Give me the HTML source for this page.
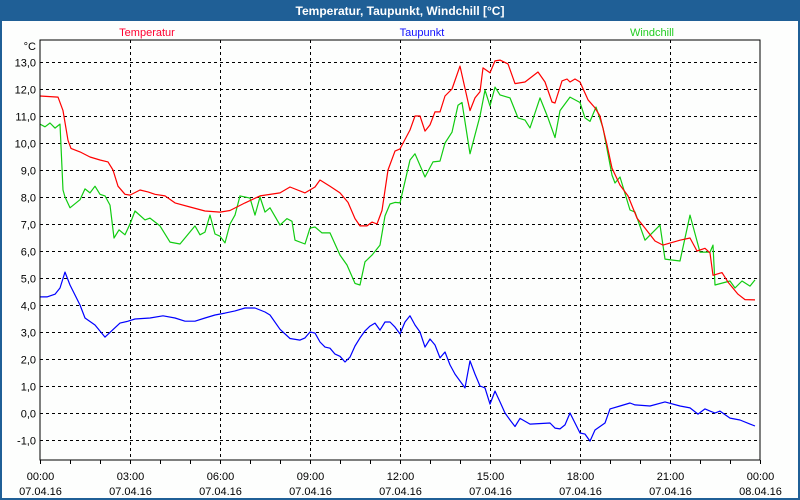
<!DOCTYPE html>
<html><head><meta charset="utf-8"><style>
body{margin:0;background:#fff;}
svg{display:block;font-family:"Liberation Sans",sans-serif;}
</style></head><body>
<svg id="chart" width="800" height="500" viewBox="0 0 800 500">
<rect x="0" y="0" width="800" height="500" fill="#1f5f96"/>
<rect x="2" y="21" width="796" height="477" fill="#fdfefd"/>
<text x="400" y="15" text-anchor="middle" fill="#fff" font-size="12" font-weight="bold">Temperatur, Taupunkt, Windchill [°C]</text>
<text x="147" y="36" text-anchor="middle" fill="#ff0030" font-size="11">Temperatur</text>
<text x="422" y="36" text-anchor="middle" fill="#1010ff" font-size="11">Taupunkt</text>
<text x="652" y="36" text-anchor="middle" fill="#22cc22" font-size="11">Windchill</text>
<text x="36" y="50" text-anchor="end" font-size="11" fill="#000">°C</text>
<g id="grid"></g>
<g id="series"></g>
<rect x="40" y="40" width="720" height="420" fill="none" stroke="#000" stroke-width="1"/>
<g id="axes"></g>
</svg>
<script>
const yTicks=[-1,0,1,2,3,4,5,6,7,8,9,10,11,12,13];
const xTickHours=[0,3,6,9,12,15,18,21,24];
const xTickTimes=["00:00","03:00","06:00","09:00","12:00","15:00","18:00","21:00","00:00"];
const xTickDates=["07.04.16","07.04.16","07.04.16","07.04.16","07.04.16","07.04.16","07.04.16","07.04.16","08.04.16"];
const tempMinutes=[0,36,46,56,62,80,100,120,136,146,156,170,180,200,216,230,250,270,300,330,360,380,410,440,480,500,530,550,560,580,600,616,630,640,654,664,674,684,696,710,720,740,750,760,770,780,790,800,810,824,840,860,870,880,886,900,910,920,936,950,970,996,1010,1024,1030,1044,1054,1060,1070,1080,1096,1110,1120,1134,1144,1160,1176,1194,1210,1230,1246,1280,1300,1314,1330,1340,1346,1364,1376,1396,1410,1430];
const tempValues=[11.74,11.7,11.2,10.1,9.8,9.67,9.48,9.37,9.3,9.0,8.4,8.1,8.07,8.26,8.19,8.1,8.04,7.78,7.63,7.48,7.44,7.5,7.78,8.04,8.15,8.37,8.15,8.37,8.63,8.4,8.15,7.8,7.2,6.93,6.93,7.07,7.0,7.5,9.0,9.7,9.78,10.48,11.0,11.0,10.44,10.67,11.15,11.15,11.74,12.0,12.85,11.2,11.67,11.9,12.78,12.6,13.04,13.07,12.93,12.2,12.26,12.63,12.26,11.52,11.48,12.3,12.37,12.26,12.37,12.26,11.6,11.3,11.0,9.93,9.07,8.44,8.04,7.22,6.85,6.37,6.22,6.4,6.48,6.0,6.1,5.93,5.1,5.2,4.85,4.4,4.2,4.19];
const dewMinutes=[0,14,30,40,50,60,80,90,110,130,160,176,190,220,246,270,290,310,330,350,370,390,410,430,450,460,480,500,520,530,540,550,560,570,580,590,600,610,620,630,640,650,660,670,680,690,700,710,720,730,740,750,760,770,780,790,800,810,820,830,850,860,870,880,890,900,910,920,930,940,950,960,980,1020,1030,1040,1050,1060,1080,1090,1100,1110,1130,1140,1160,1180,1190,1220,1250,1280,1300,1316,1330,1340,1350,1360,1380,1400,1420,1430];
const dewValues=[4.3,4.3,4.4,4.63,5.22,4.74,4.0,3.52,3.26,2.81,3.33,3.4,3.48,3.52,3.6,3.52,3.4,3.4,3.52,3.63,3.7,3.78,3.89,3.89,3.74,3.63,3.1,2.76,2.7,2.78,3.0,2.96,2.63,2.44,2.4,2.18,2.1,1.89,2.07,2.48,2.78,3.04,3.22,3.33,3.07,3.37,3.37,3.18,2.93,3.37,3.6,3.26,3.0,2.44,2.74,2.52,2.04,2.26,1.78,1.44,0.93,1.93,1.44,1.0,0.93,0.33,0.81,0.41,0,-0.26,-0.5,-0.2,-0.41,-0.37,-0.56,-0.59,-0.44,0,-0.74,-0.78,-1.04,-0.63,-0.37,0.15,0.26,0.37,0.3,0.26,0.41,0.26,0.19,-0.04,0.15,0.07,0,0.07,-0.19,-0.26,-0.41,-0.48];
const chillMinutes=[0,10,20,30,40,46,50,60,80,90,100,110,120,130,140,148,158,170,180,190,210,220,240,260,280,310,320,330,340,350,360,370,380,390,400,420,430,440,450,460,480,494,504,510,530,540,550,564,580,600,614,630,640,650,664,680,690,700,710,720,740,750,770,786,800,810,824,836,844,860,880,890,900,910,920,940,956,970,980,1000,1016,1030,1040,1060,1080,1090,1100,1112,1126,1144,1150,1160,1180,1190,1210,1240,1250,1280,1300,1320,1340,1346,1350,1380,1390,1404,1420,1430];
const chillValues=[10.7,10.6,10.74,10.55,10.7,8.26,8.0,7.6,7.9,8.3,8.15,8.4,8.1,8.04,7.7,6.48,6.78,6.6,7.0,7.48,7.15,7.22,6.93,6.33,6.26,6.93,6.6,6.7,7.33,6.63,6.55,6.3,7.0,7.33,8.04,7.96,7.33,8.0,7.44,7.6,6.96,7.2,7.1,6.4,6.26,6.85,6.89,6.67,6.67,5.85,5.48,4.8,4.74,5.6,5.85,6.22,7.3,7.74,7.8,7.78,9.37,9.6,8.74,9.3,9.33,10.0,10.4,11.4,11.5,9.6,11.0,11.96,11.37,12.07,11.78,11.67,10.93,10.85,10.56,11.67,10.93,10.2,11.2,11.7,11.5,10.93,10.8,11.33,10.56,8.81,8.52,8.74,7.52,7.44,6.4,6.96,5.7,5.63,7.33,5.96,5.96,6.22,4.74,4.89,4.63,4.89,4.7,4.93];

const NS='http://www.w3.org/2000/svg';
const X0=40,X1=760,YZERO=413,PXV=27;
function xScale(min){return X0+(X1-X0)*min/1440;}
function yScale(v){return YZERO-PXV*v;}
function mk(tag,attrs,parent){const e=document.createElementNS(NS,tag);for(const k in attrs)e.setAttribute(k,attrs[k]);parent.appendChild(e);return e;}
const grid=document.getElementById('grid'),axes=document.getElementById('axes'),series=document.getElementById('series');
yTicks.forEach(v=>{
  const y=yScale(v)+0.5;
  const l=mk('line',{x1:X0,x2:X1,y1:y,y2:y,stroke:'#000','stroke-dasharray':'3,3','stroke-width':1},grid);
  
  
  const t=mk('text',{x:36,y:y+4,'text-anchor':'end','font-size':11,fill:'#000'},axes);
  t.textContent=v.toFixed(1).replace('.',',');
  
  
});
xTickHours.forEach((h,i)=>{
  const x=xScale(h*60)+0.5;
  if(h>0&&h<24){
    const l=mk('line',{x1:x,x2:x,y1:40,y2:460,stroke:'#000','stroke-dasharray':'3,3','stroke-width':1},grid);
    
    
  }
  const t1=mk('text',{x:x,y:480,'text-anchor':'middle','font-size':11,fill:'#000'},axes);
  t1.textContent=xTickTimes[i];
  
  
  const t2=mk('text',{x:x,y:495,'text-anchor':'middle','font-size':11,fill:'#000'},axes);
  t2.textContent=xTickDates[i];
  
  
});
for(let h=0;h<=24;h++){
  const x=xScale(h*60)+0.5;
  const l=mk('line',{x1:x,x2:x,y1:460,y2:464,stroke:'#000','stroke-width':1},axes);
  
  
}
function drawLine(mins,vals,color,name){
  const n=Math.min(mins.length,vals.length);
  let d='';
  for(let i=0;i<n;i++)d+=(i?'L':'M')+xScale(mins[i]).toFixed(1)+','+yScale(vals[i]).toFixed(1);
  const p=mk('path',{d:d,fill:'none',stroke:color,'stroke-width':1.2,'stroke-linejoin':'round'},series);
  
  
}
drawLine(chillMinutes,chillValues,'#11cc11','windchill-line');
drawLine(dewMinutes,dewValues,'#0000ff','taupunkt-line');
drawLine(tempMinutes,tempValues,'#ff0000','temperatur-line');
</script>
</body></html>
